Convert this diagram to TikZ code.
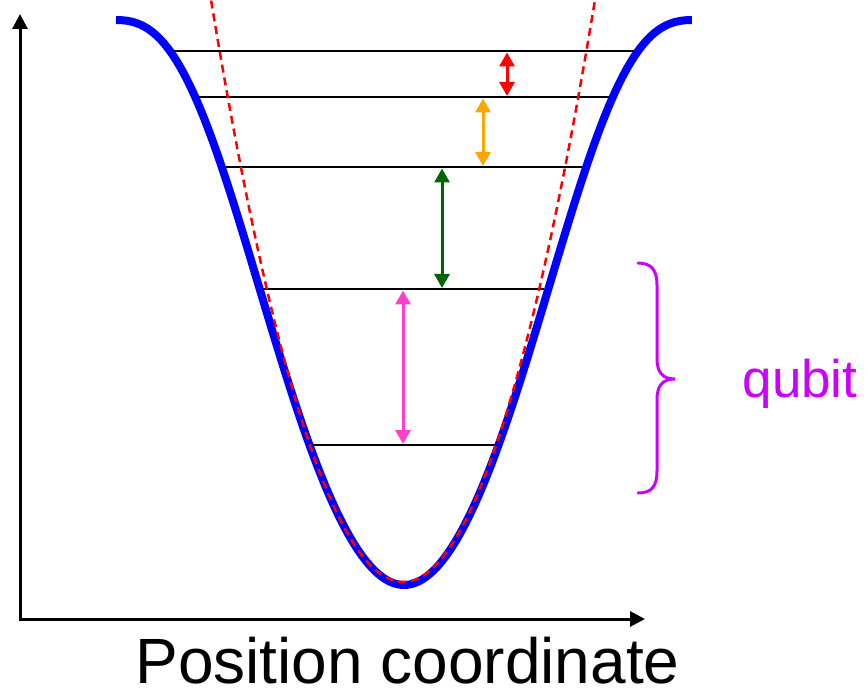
\documentclass[tikz,border=0pt]{standalone}
\usepackage{fontspec}
\setmainfont{Liberation Sans}
\usetikzlibrary{arrows.meta}
\definecolor{wellblue}{RGB}{0,0,255}
\definecolor{harmred}{RGB}{255,0,0}
\definecolor{gapred}{RGB}{255,0,0}
\definecolor{gaporange}{RGB}{255,165,0}
\definecolor{gapgreen}{RGB}{0,102,0}
\definecolor{gappink}{RGB}{255,64,204}
\definecolor{qubitpurple}{RGB}{204,0,255}
\begin{document}
\begin{tikzpicture}[x=1pt,y=-1pt,
  level/.style={line width=2pt,black},
  axis/.style={line width=3pt,{Triangle[length=15pt,width=15pt]}-{Triangle[length=15pt,width=15pt]}},
  gap/.style={line width=3pt,{Triangle[length=14pt,width=15pt]}-{Triangle[length=14pt,width=15pt]}},
]
\useasboundingbox (0,0) rectangle (868,695);
% axes
\coordinate (O) at (20,619);
\coordinate (ytip) at (20,14);
\coordinate (xtip) at (645,619);
\draw[axis,line join=miter] (ytip) -- (O) -- (xtip);
% energy levels
\coordinate (l1a) at (168,51);  \coordinate (l1b) at (639,51);
\coordinate (l2a) at (195,97);  \coordinate (l2b) at (613,97);
\coordinate (l3a) at (220,167); \coordinate (l3b) at (587,167);
\coordinate (l4a) at (262,289); \coordinate (l4b) at (544,289);
\coordinate (l5a) at (306,445); \coordinate (l5b) at (502,445);
\draw[level] (l1a) -- (l1b);
\draw[level] (l2a) -- (l2b);
\draw[level] (l3a) -- (l3b);
\draw[level] (l4a) -- (l4b);
\draw[level] (l5a) -- (l5b);
% cosine-like well
\draw[wellblue,line width=8pt,line join=round] plot[domain=-1:1,samples=241,variable=\t]
  ({404+288*\t},{302.5+282.5*cos(180*(abs(\t)+0.45*abs(\t)^4*(1-abs(\t))))});
% harmonic approximation
\draw[harmred,line width=2.5pt,dash pattern=on 8pt off 5pt] plot[domain=-194:194,samples=150] ({403+\x},{582-(0.12566*\x)*(0.12566*\x)});
% level spacings
\coordinate (r1) at (507,52.5); \coordinate (r2) at (507,96);
\coordinate (o1) at (483,98.5); \coordinate (o2) at (483,166);
\coordinate (g1) at (442,168.5); \coordinate (g2) at (442,288);
\coordinate (p1) at (403,290.5); \coordinate (p2) at (403,444);
\draw[gap,gapred] (r1) -- (r2);
\draw[gap,gaporange] (o1) -- (o2);
\draw[gap,gapgreen] (g1) -- (g2);
\draw[gap,gappink] (p1) -- (p2);
% brace
\coordinate (bt) at (638,263);
\coordinate (bm) at (675,379);
\coordinate (bb) at (638,493);
\draw[qubitpurple,line width=3pt,line cap=round]
  (bt) .. controls (652,263) and (657,271) .. (657,285) -- (657,358)
  .. controls (657,372) and (662,379) .. (bm)
  .. controls (662,379) and (657,386) .. (657,400) -- (657,471)
  .. controls (657,486) and (652,493) .. (bb);
\node[qubitpurple,font=\fontsize{53}{60}\selectfont,inner sep=0pt,anchor=base] (qlabel) at (800,397) {qubit};
\node[black,font=\fontsize{64}{70}\selectfont,inner sep=0pt,anchor=base] (xlabel) at (407.5,683) {Position coordinate};
\end{tikzpicture}
\end{document}
